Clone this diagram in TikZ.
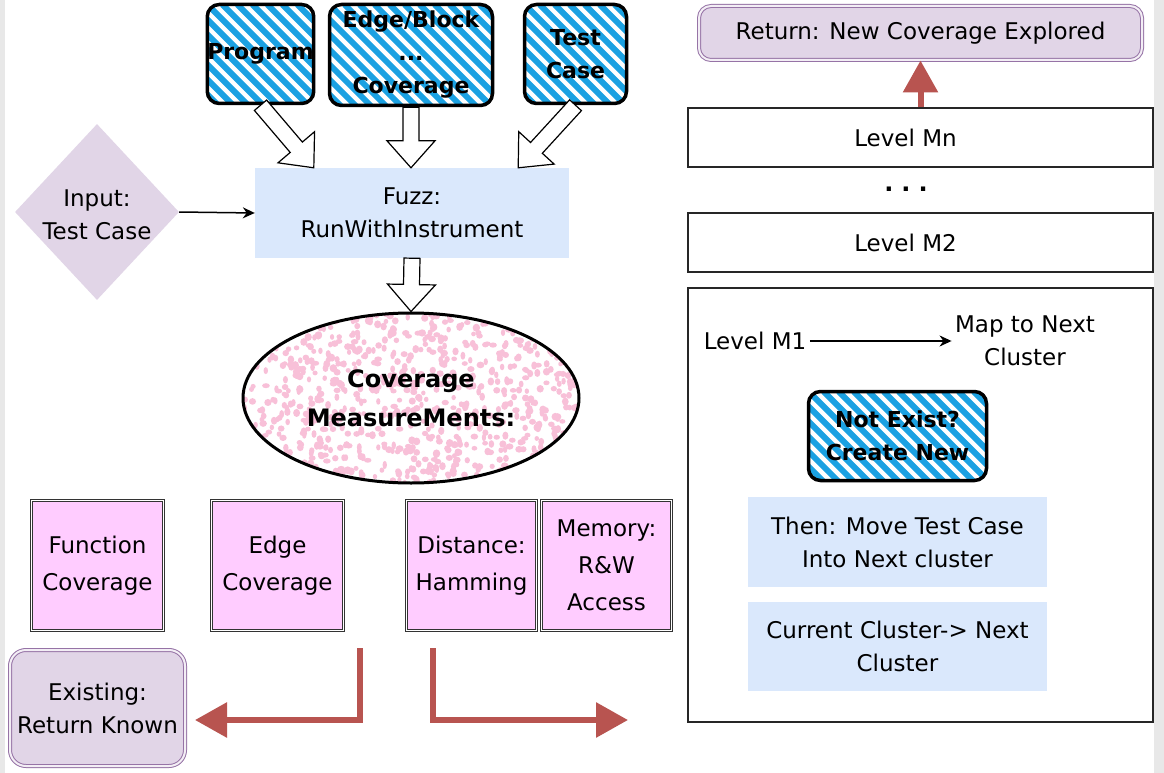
\documentclass[tikz,border=0pt]{standalone}
\usepackage{fontspec}
\setmainfont{DejaVu Sans}
\usetikzlibrary{arrows.meta,calc,shapes.geometric}
\definecolor{fuzzblue}{HTML}{DAE8FC}
\definecolor{lilac}{HTML}{E1D5E7}
\definecolor{lilacdraw}{HTML}{9673A6}
\definecolor{pinkbox}{HTML}{FFCCFF}
\definecolor{redarr}{HTML}{B85450}
\definecolor{hatchblue}{HTML}{1BA1E2}
\definecolor{dotpink}{HTML}{F8C0D8}
\newcommand\hollowarrow[2]{%
  \draw[hollow] ($(#1)!8pt!90:(#2)$) -- ($(#2)!27pt!(#1)!8pt!90:(#2)$)
    -- ($(#2)!27pt!(#1)!24pt!90:(#2)$) -- (#2)
    -- ($(#2)!27pt!(#1)!24pt!-90:(#2)$) -- ($(#2)!27pt!(#1)!8pt!-90:(#2)$)
    -- ($(#1)!8pt!-90:(#2)$) -- cycle;}
\begin{document}
\pgfmathsetseed{12}
\begin{tikzpicture}[x=1pt,y=-1pt,
  txt/.style={font=\fontsize{23}{33}\selectfont, align=center, text=black},
  hatchbox/.style={draw=black, line width=3.5pt, rounded corners=12pt, inner sep=0pt,
    align=center, font=\bfseries\fontsize{22}{33}\selectfont,
    path picture={\foreach \k in {-9,...,14}{\draw[hatchblue, line width=6pt]
      ([xshift=\k*15pt]path picture bounding box.north west) -- ++(260,260);}}},
  pinkb/.style={txt, font=\fontsize{23}{37}\selectfont, draw=black!80, line width=0.9pt,
    double=white, double distance=1.3pt, fill=pinkbox, minimum height=130pt},
  lilacbox/.style={txt, draw=lilacdraw, line width=1pt, double=lilac!40!white,
    double distance=2pt, fill=lilac},
  levelbox/.style={draw=black!85, line width=1.5pt, fill=white, minimum width=465pt},
  bluebox/.style={txt, fill=fuzzblue, minimum width=299pt},
  hollow/.style={draw=black, line width=1.2pt, fill=white, line join=miter},
  redarrow/.style={draw=redarr, line width=6pt, -{Triangle[length=32pt,width=34pt]}},
  thinarrow/.style={draw=black, line width=1.5pt, -{Stealth[length=12pt,width=11pt]}}]
\useasboundingbox (0,0) rectangle (1164,773);
\fill[white] (0,0) rectangle (1164,773);
\fill[black!9] (0,0) rectangle (5,773);
\fill[black!9] (1154,0) rectangle (1164,773);

% top hatched inputs
\node[hatchbox, minimum width=102pt, minimum height=99pt] (prog) at (260.5,54) {Program};
\node[hatchbox, minimum width=163pt, minimum height=101pt] (edgeb) at (411,55) {Edge/Block\\...\\Coverage};
\node[hatchbox, minimum width=102pt, minimum height=99pt] (testc) at (575.5,54) {Test\\Case};

% fuzz box and input diamond
\node[txt, fill=fuzzblue, minimum width=314pt, minimum height=90pt] (fuzz) at (412,213) {Fuzz:\\RunWithInstrument};
\node[diamond, fill=lilac, minimum width=164pt, minimum height=176pt, inner sep=0pt] (inp) at (97,212) {};
\node[txt] (inptxt) at ([yshift=-3pt]inp.center) {Input:\\Test Case};
\draw[thinarrow] (inp.east) -- (fuzz.west);

\coordinate (tipA) at ([xshift=59pt]fuzz.north west);
\coordinate (tipC) at ([xshift=-51pt]fuzz.north east);
\hollowarrow{prog.south}{tipA}
\hollowarrow{edgeb.south}{edgeb.south |- fuzz.north}
\hollowarrow{testc.south}{tipC}

% ellipse
\node[ellipse, draw=black, line width=3pt, minimum width=336pt, minimum height=170pt, inner sep=0pt,
  align=center, font=\bfseries\fontsize{24}{39}\selectfont,
  path picture={\foreach \i in {1,...,950}{\fill[dotpink]
     ([shift={(rand*172,rand*90)}]path picture bounding box.center)
     ellipse[x radius=3pt+rand*0.9pt, y radius=3.2pt+rand*0.9pt];}}] (ell) at (411,398) {Coverage\\MeasureMents:};
\hollowarrow{fuzz.south}{ell.north}

% coverage kinds
\node[pinkb, minimum width=132pt] (fc) at (97.5,565.5) {Function\\Coverage};
\node[pinkb, minimum width=132pt] (ec) at (277.5,565.5) {Edge\\Coverage};
\node[pinkb, minimum width=130pt] (dh) at (471.5,565.5) {Distance:\\Hamming};
\node[pinkb, minimum width=130pt] (mem) at (606.5,565.5) {Memory:\\R\&W\\Access};

% existing
\node[lilacbox, rounded corners=16pt, minimum width=175pt, minimum height=116pt] (exist) at (97.5,708) {Existing:\\Return Known};

\coordinate (rl1) at (360,648);
\coordinate (rl2) at (195,720);
\coordinate (rr1) at (433,648);
\coordinate (rr2) at (628,720);
\draw[redarrow] (rl1) |- (rl2);
\draw[redarrow] (rr1) |- (rr2);

% right column
\node[lilacbox, rounded corners=12pt, minimum width=443pt, minimum height=54pt] (ret) at (920.5,33) {Return: New Coverage Explored};
\node[levelbox, minimum height=59pt] (lmn) at (920.5,137.5) {};
\node[txt] (lmntxt) at ([xshift=-15pt]lmn.center) {Level Mn};
\draw[redarrow] (lmn.north) -- (ret.south);
\node[txt, font=\bfseries\fontsize{24}{24}\selectfont] (dots) at (906,189) {.\,\,.\,\,.};
\node[levelbox, minimum height=59pt] (lm2) at (920.5,242.5) {};
\node[txt] (lm2txt) at ([xshift=-15pt]lm2.center) {Level M2};
\node[levelbox, minimum height=434pt] (big) at (920.5,505) {};

\node[txt] (lm1) at (755,341) {Level M1};
\node[txt] (map) at (1025,341) {Map to Next\\Cluster};
\draw[thinarrow] (lm1.east) -- (map.west);

\node[hatchbox, minimum width=178pt, minimum height=89pt] (notex) at (897.5,436) {Not Exist?\\Create New};
\node[bluebox, minimum height=90pt] (then) at (897.5,542) {Then: Move Test Case\\Into Next cluster};
\node[bluebox, minimum height=89pt] (curr) at (897.5,646.5) {Current Cluster-> Next\\Cluster};
\end{tikzpicture}
\end{document}
